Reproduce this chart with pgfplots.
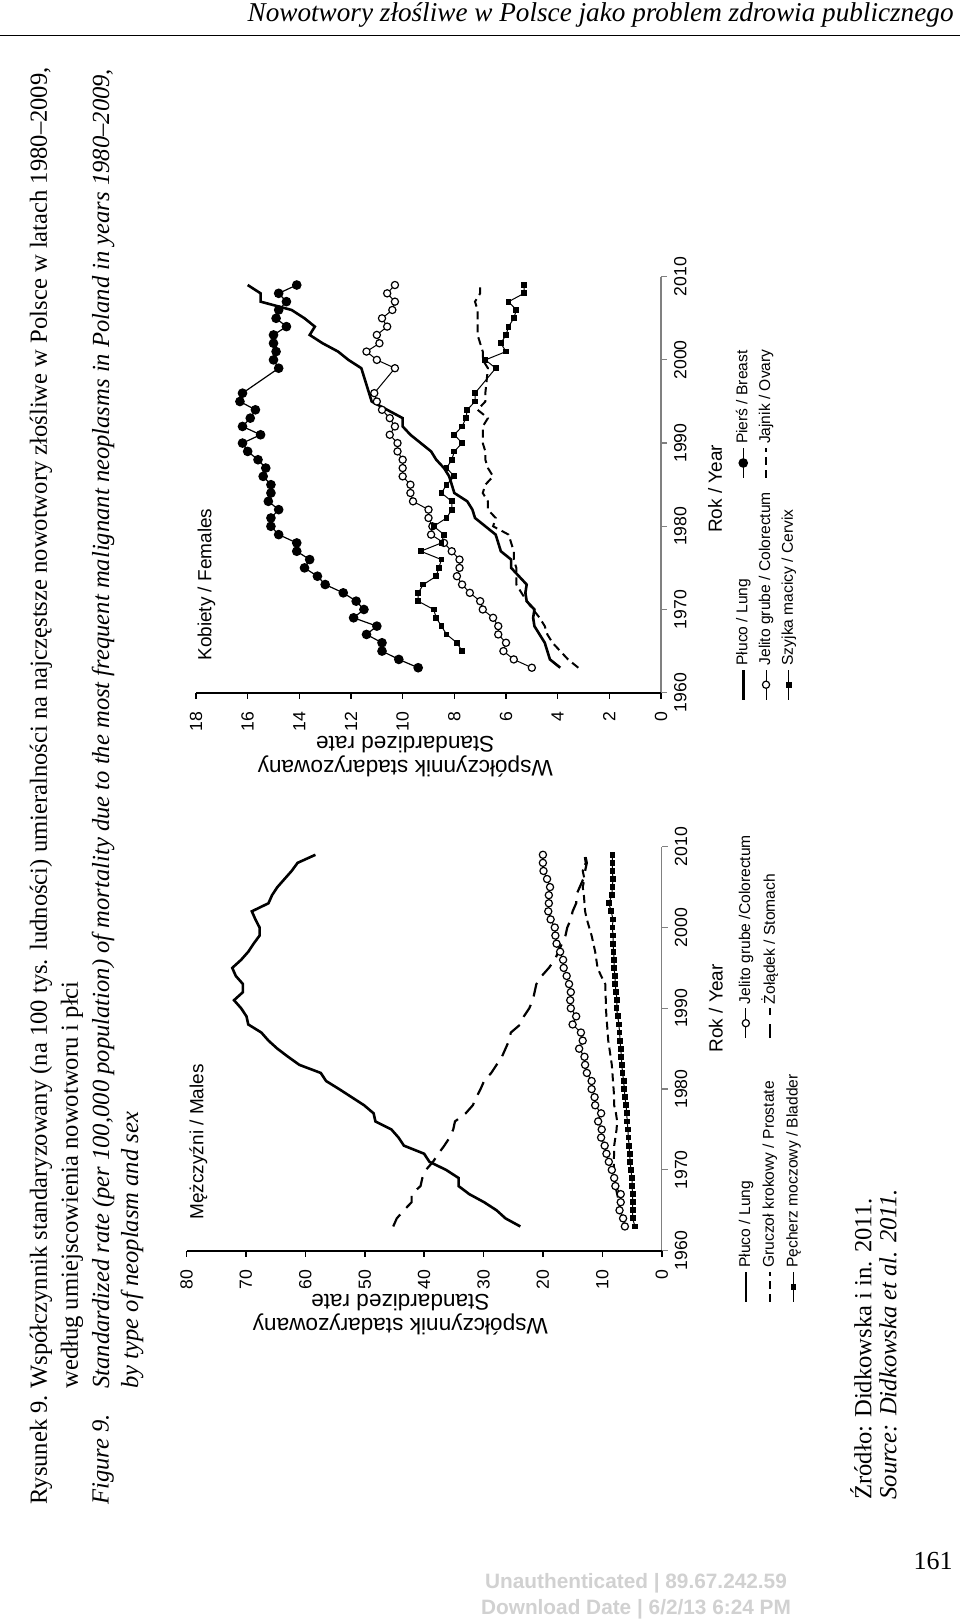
\documentclass[border=0pt]{standalone}
\usepackage{fontspec}
\setmainfont{Liberation Serif}
\setsansfont{Liberation Sans}
\usepackage{pgfplots}
\pgfplotsset{compat=1.18}

\pgfplotsset{
  rchart/.style={
    scale only axis,
    anchor=south west, at={(0,0)},
    xmin=1960, xmax=2010, ymin=0,
    axis x line*=bottom, axis y line*=left,
    xtick={1960,1970,...,2010},
    tick align=outside,
    major tick length=3pt,
    x axis line style={gray, line width=0.6pt},
    y axis line style={black, line width=0.9pt},
    xtick style={gray, line width=0.6pt},
    ytick style={black, line width=0.8pt},
    /pgf/number format/assume math mode=true,
    /pgf/number format/1000 sep={},
    ticklabel style={font=\fontsize{8.8}{10}\sffamily},
    yticklabel style={xshift=-3pt},
    xlabel={Rok / Year},
    ylabel={Współczynnik stadaryzowany\\Standardized rate},
    every axis y label/.style={at={(axis description cs:0,0.55)}, xshift=-32pt, anchor=center, rotate=90, align=center, font=\fontsize{11.3}{11.6}\sffamily},
    clip=false,
    legend columns=2,
    legend cell align=left,
    legend image code/.code={\draw[mark repeat=2,mark phase=2,##1] plot coordinates {(0pt,0pt)(7.5pt,0pt)(15pt,0pt)};},
  },
  xlab/.style={every axis x label/.style={at={(axis description cs:#1,0)}, anchor=center, yshift=-27pt, font=\fontsize{9.5}{11}\sffamily}},
  leg/.style n args={3}{legend style={draw=none, fill=none, at={(axis description cs:#1,0)}, anchor=north west, yshift=#2,
      font=\fontsize{7.8}{9}\sffamily, inner sep=0pt, outer sep=0pt, nodes={inner sep=1.5pt}, row sep=1.2pt,
      /tikz/every even column/.append style={column sep=#3}}},
  lungstyle/.style={black, line width=1.3pt, no markers},
  crcstyle/.style={black, line width=0.5pt, mark=*, mark size=1.8pt, mark options={fill=white, line width=0.6pt, solid}},
  sqstyle/.style={black, line width=0.5pt, mark=square*, mark size=1.2pt, mark options={fill=black, solid}},
  breaststyle/.style={black, line width=0.6pt, mark=*, mark size=2.1pt, mark options={fill=black, solid}},
  longdash/.style={black, line width=1.1pt, dash pattern=on 7pt off 4.5pt, no markers},
  shortdash/.style={black, line width=1.0pt, dash pattern=on 4pt off 2.5pt, no markers},
}

\begin{document}
\begin{tikzpicture}[x=0.5pt,y=0.5pt]
\path[use as bounding box, fill=white] (0,0) rectangle (960,1622);

% header
\node[anchor=east, font=\fontsize{13.6}{16}\selectfont\itshape, inner sep=0pt] at (954,1607) {Nowotwory złośliwe w Polsce jako problem zdrowia publicznego};
\draw[line width=0.5pt] (0,1586) -- (960,1586);

% captions (rotated)
\begin{scope}[every node/.style={rotate=90, anchor=west, inner sep=0pt, font=\fontsize{12.3}{14}\selectfont}]
\node at (41,117) {Rysunek 9.};
\node at (41,233) {Współczynnik standaryzowany (na 100 tys. ludności) umieralności na najczęstsze nowotwory złośliwe w Polsce w latach 1980–2009,};
\node at (72,233) {według umiejscowienia nowotworu i płci};
\node at (103,117) {\itshape Figure 9.};
\node at (103,233) {\itshape Standardized rate (per 100,000 population) of mortality due to the most frequent malignant neoplasms in Poland in years 1980–2009,};
\node at (132,233) {\itshape by type of neoplasm and sex};
\node at (861,122) {Źródło: Didkowska i in. 2011.};
\node at (888,122) {\itshape Source: Didkowska et al. 2011.};
\end{scope}

% page number and watermark
\node[font=\fontsize{13}{15}\selectfont, inner sep=0pt] at (933,61) {161};
\node[font=\fontsize{10.4}{13.2}\sffamily\bfseries, text=black!18, align=center, inner sep=0pt] at (636,26) {Unauthenticated | 89.67.242.59\\Download Date | 6/2/13 6:24 PM};

% ---------------- Males ----------------
\begin{scope}[shift={(661.7,371.3)}, rotate=90, transform shape]
\begin{axis}[rchart, xlab=0.6, leg={-0.13}{-37pt}{16pt}, width=202pt, height=237.6pt, ymax=80, ytick={0,10,...,80}]
\addplot[lungstyle] coordinates {
(1963,23.8)(1964,26.3)(1965,27.8)(1966,29.9)(1967,32.4)(1968,34.2)(1969,34.2)(1970,36.3)(1971,39.1)(1972,40.0)
(1973,43.4)(1974,44.3)(1975,45.5)(1976,48.2)(1977,48.5)(1978,50.1)(1979,52.2)(1980,54.3)(1981,56.5)(1982,57.4)
(1983,61.0)(1984,62.9)(1985,64.7)(1986,66.2)(1987,67.4)(1988,69.6)(1989,69.9)(1990,70.8)(1991,72.0)(1992,70.5)
(1993,70.5)(1994,71.7)(1995,72.3)(1996,70.8)(1997,69.6)(1998,68.7)(1999,67.7)(2000,67.7)(2001,68.4)(2002,69.0)
(2003,66.2)(2004,65.6)(2005,64.7)(2006,63.5)(2007,62.3)(2008,61.3)(2009,58.3)};
\addlegendentry{Płuco / Lung}
\addplot[crcstyle] coordinates {
(1963,6.2)(1964,6.5)(1965,7.1)(1966,6.9)(1967,6.9)(1968,7.8)(1969,8.0)(1970,8.4)(1971,8.9)(1972,9.3)
(1973,9.6)(1974,10.2)(1975,10.1)(1976,10.7)(1977,10.2)(1978,11.2)(1979,11.3)(1980,11.8)(1981,11.8)(1982,12.6)
(1983,12.9)(1984,13.0)(1985,13.9)(1986,13.3)(1987,13.6)(1988,15.0)(1989,14.4)(1990,15.3)(1991,15.4)(1992,15.3)
(1993,15.6)(1994,16.0)(1995,16.5)(1996,16.6)(1997,17.1)(1998,17.7)(1999,17.9)(2000,18.0)(2001,18.7)(2002,19.1)
(2003,19.0)(2004,19.0)(2005,18.8)(2006,19.3)(2007,19.9)(2008,20.0)(2009,20.0)};
\addlegendentry{Jelito grube /Colorectum}
\addplot[shortdash] coordinates {
(1965,7.0)(1966,7.2)(1967,7.5)(1968,7.8)(1969,7.9)(1970,8.0)(1971,8.1)(1972,8.0)(1973,8.0)(1974,7.8)
(1975,7.6)(1976,7.5)(1977,7.7)(1978,8.0)(1979,8.0)(1980,8.1)(1981,8.2)(1982,8.3)(1983,8.4)(1984,8.6)
(1985,8.8)(1986,9.0)(1987,9.1)(1988,9.2)(1989,9.3)(1990,9.4)(1991,9.4)(1992,9.5)(1993,9.5)(1994,10.2)
(1995,10.8)(1996,11.0)(1997,11.2)(1998,11.5)(1999,11.8)(2000,12.2)(2001,12.6)(2002,12.9)(2003,13.0)(2004,13.1)
(2005,13.3)(2006,13.0)(2007,13.3)(2008,12.8)(2009,13.0)};
\addlegendentry{Gruczoł krokowy / Prostate}
\addplot[longdash] coordinates {
(1963,45.2)(1964,44.6)(1965,43.4)(1966,42.1)(1967,42.1)(1968,40.6)(1969,40.3)(1970,39.7)(1971,38.5)(1972,37.6)
(1973,36.6)(1974,35.7)(1975,35.1)(1976,34.8)(1977,33.0)(1978,31.8)(1979,31.2)(1980,30.5)(1981,29.9)(1982,28.7)
(1983,27.8)(1984,26.9)(1985,26.3)(1986,25.7)(1987,25.4)(1988,23.8)(1989,23.2)(1990,22.3)(1991,21.7)(1992,21.4)
(1993,21.1)(1994,20.2)(1995,19.0)(1996,18.0)(1997,17.4)(1998,16.8)(1999,16.2)(2000,15.9)(2001,15.3)(2002,15.0)
(2003,14.4)(2004,14.4)(2005,13.8)(2006,13.2)(2007,12.9)(2008,12.6)(2009,12.9)};
\addlegendentry{Żołądek / Stomach}
\addplot[sqstyle] coordinates {
(1963,4.5)(1964,4.9)(1965,4.9)(1966,4.9)(1967,4.9)(1968,5.0)(1969,5.0)(1970,5.2)(1971,5.3)(1972,5.4)
(1973,5.5)(1974,5.6)(1975,5.7)(1976,5.8)(1977,5.9)(1978,6.0)(1979,6.2)(1980,6.3)(1981,6.4)(1982,6.6)
(1983,6.7)(1984,6.8)(1985,6.9)(1986,7.0)(1987,7.1)(1988,7.2)(1989,7.4)(1990,7.6)(1991,7.5)(1992,7.7)
(1993,7.8)(1994,7.9)(1995,8.0)(1996,8.0)(1997,8.1)(1998,8.2)(1999,8.2)(2000,8.3)(2001,8.2)(2002,8.5)
(2003,8.9)(2004,8.4)(2005,8.3)(2006,8.2)(2007,8.3)(2008,8.3)(2009,8.3)};
\addlegendentry{Pęcherz moczowy / Bladder}
\node[anchor=west, font=\fontsize{9.5}{11}\sffamily] at (axis cs:1963,78) {Mężczyźni / Males};
\end{axis}
\end{scope}

% ---------------- Females ----------------
\begin{scope}[shift={(661,929.3)}, rotate=90, transform shape]
\begin{axis}[rchart, xlab=0.49, leg={-0.02}{-36pt}{5pt}, width=208pt, height=232.5pt, ymax=18, ytick={0,2,...,18}]
\addplot[lungstyle] coordinates {
(1963,3.9)(1964,4.3)(1965,4.4)(1966,4.5)(1967,4.7)(1968,4.9)(1969,4.95)(1970,4.9)(1971,5.2)(1972,5.25)
(1973,5.2)(1974,5.5)(1975,5.8)(1976,5.8)(1977,6.2)(1978,6.3)(1979,6.4)(1980,6.8)(1981,7.2)(1982,7.3)
(1983,7.5)(1984,8.0)(1985,8.1)(1986,8.2)(1987,8.4)(1988,8.7)(1989,8.9)(1990,9.3)(1991,9.7)(1992,10.0)
(1993,10.0)(1994,10.6)(1995,11.2)(1996,11.3)(1999,11.6)(2000,12.1)(2001,12.5)(2002,13.1)(2003,13.6)(2004,13.4)
(2005,13.8)(2006,14.3)(2007,15.5)(2008,15.5)(2009,16.0)};
\addlegendentry{Płuco / Lung}
\addplot[breaststyle] coordinates {
(1963,9.4)(1964,10.15)(1965,10.8)(1966,10.8)(1967,11.4)(1968,11.0)(1969,11.9)(1970,11.5)(1971,11.8)(1972,12.3)
(1973,13.0)(1974,13.3)(1975,13.8)(1976,13.6)(1977,14.1)(1978,14.1)(1979,14.8)(1980,15.1)(1981,15.1)(1982,14.8)
(1983,15.2)(1984,15.1)(1985,15.1)(1986,15.4)(1987,15.3)(1988,15.6)(1989,16.0)(1990,16.2)(1991,15.5)(1992,16.2)
(1993,15.9)(1994,15.7)(1995,16.3)(1996,16.2)(1999,14.8)(2000,15.0)(2001,14.9)(2002,15.0)(2003,15.0)(2004,14.5)
(2005,14.9)(2006,14.8)(2007,14.5)(2008,14.8)(2009,14.1)};
\addlegendentry{Pierś / Breast}
\addplot[crcstyle] coordinates {
(1963,5.0)(1964,5.7)(1965,6.1)(1966,6.0)(1967,6.3)(1968,6.3)(1969,6.5)(1970,6.9)(1971,7.0)(1972,7.4)
(1973,7.7)(1974,7.9)(1975,7.8)(1976,7.8)(1977,8.1)(1978,8.4)(1979,8.9)(1980,8.85)(1981,9.0)(1982,9.0)
(1983,9.6)(1984,9.7)(1985,9.7)(1986,10.0)(1987,10.0)(1988,10.0)(1989,10.2)(1990,10.2)(1991,10.5)(1992,10.3)
(1993,10.5)(1994,10.8)(1995,11.0)(1996,11.1)(1999,10.3)(2000,11.0)(2001,11.4)(2002,10.9)(2003,11.0)(2004,10.6)
(2005,10.8)(2006,10.4)(2007,10.3)(2008,10.6)(2009,10.3)};
\addlegendentry{Jelito grube / Colorectum}
\addplot[shortdash] coordinates {
(1963,3.2)(1964,3.6)(1965,3.9)(1966,4.2)(1967,4.4)(1968,4.5)(1969,4.7)(1970,4.95)(1971,5.2)(1972,5.4)
(1973,5.6)(1974,5.6)(1975,5.6)(1976,5.7)(1977,5.7)(1978,5.8)(1979,5.9)(1980,6.5)(1981,6.4)(1982,6.7)
(1983,6.7)(1984,6.9)(1985,6.8)(1986,6.5)(1987,6.7)(1988,6.8)(1989,6.8)(1990,6.9)(1991,6.9)(1992,6.9)
(1993,6.7)(1994,7.1)(1995,6.8)(1996,6.8)(1999,6.7)(2000,6.9)(2001,6.9)(2002,7.0)(2003,7.1)(2004,7.1)
(2005,7.1)(2006,7.1)(2007,7.2)(2008,7.0)(2009,7.0)};
\addlegendentry{Jajnik / Ovary}
\addplot[sqstyle] coordinates {
(1965,7.7)(1966,7.9)(1967,8.3)(1968,8.5)(1969,8.7)(1970,8.8)(1971,9.4)(1972,9.4)(1973,9.2)(1974,8.7)
(1975,8.6)(1976,8.5)(1977,9.3)(1978,8.5)(1979,8.4)(1980,8.8)(1981,8.3)(1982,8.1)(1983,8.1)(1984,8.5)
(1985,8.3)(1986,8.0)(1987,8.3)(1988,8.1)(1989,8.0)(1990,7.7)(1991,8.0)(1992,7.7)(1993,7.55)(1994,7.5)
(1995,7.2)(1996,7.2)(1999,6.4)(2000,6.8)(2001,6.0)(2002,6.2)(2003,6.0)(2004,5.9)(2005,5.7)(2006,5.6)
(2007,5.9)(2008,5.3)(2009,5.3)};
\addlegendentry{Szyjka macicy / Cervix}
\node[anchor=west, font=\fontsize{9.5}{11}\sffamily] at (axis cs:1963,17.6) {Kobiety / Females};
\end{axis}
\end{scope}
\end{tikzpicture}
\end{document}
